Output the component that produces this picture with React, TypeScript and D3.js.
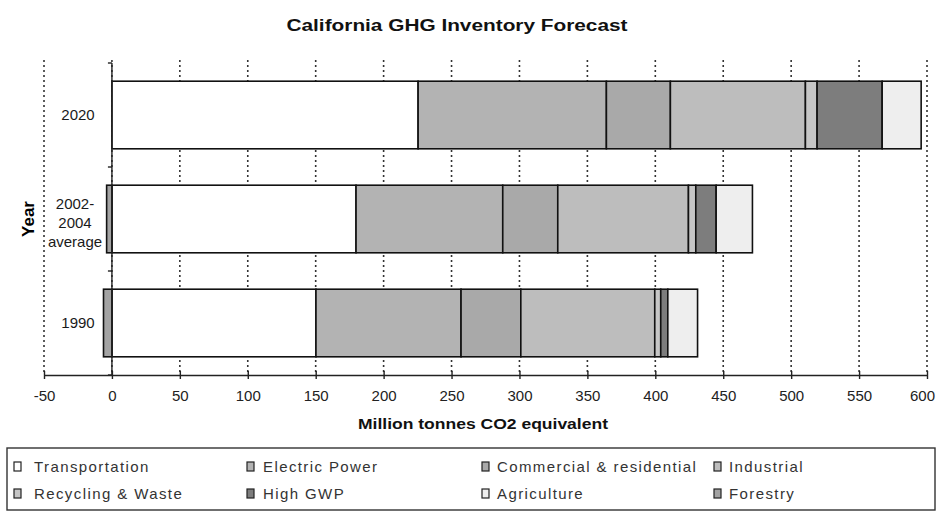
import * as d3 from "d3"
import { useEffect, useRef } from "react"

const categories = ["2020", "2002-2004 average", "1990"]
const sectors = [
  "Transportation",
  "Electric Power",
  "Commercial & residential",
  "Industrial",
  "Recycling & Waste",
  "High GWP",
  "Agriculture",
  "Forestry",
]
const transportation = [225.4, 179.7, 150.2]
const electricPower = [138.6, 108.0, 106.8]
const commercial = [47.1, 40.5, 44.0]
const industrial = [99.4, 96.2, 98.6]
const recycling = [8.6, 5.4, 4.4]
const highGwp = [47.9, 15.0, 5.2]
const agriculture = [28.7, 26.7, 21.9]
const forestry = [0, -3.9, -6.2]
const xTicks = [-50, 0, 50, 100, 150, 200, 250, 300, 350, 400, 450, 500, 550, 600]

const fills = ["#ffffff", "#b3b3b3", "#a9a9a9", "#bdbdbd", "#c6c6c6", "#7d7d7d", "#eeeeee", "#a3a3a3"]
const font = "'Liberation Sans', Arial, sans-serif"

export default function App() {
  const svgRef = useRef<SVGSVGElement>(null)

  useEffect(() => {
    if (!svgRef.current) return
    const svg = d3.select(svgRef.current)
    svg.selectAll("*").remove()

    const series = [transportation, electricPower, commercial, industrial, recycling, highGwp, agriculture, forestry]
    const rows = categories.map((c, i) => {
      const row: any = { year: c }
      sectors.forEach((s, k) => (row[s] = series[k][i]))
      return row
    })

    const stacked = d3.stack<any>().keys(sectors).offset(d3.stackOffsetDiverging)(rows)

    const x = d3.scaleLinear().domain([-50, 600]).range([44, 927])
    const y = d3.scaleBand<string>().domain(categories).range([63, 375]).paddingInner(0.35).paddingOuter(0.175)
    const color = d3.scaleOrdinal<string, string>().domain(sectors).range(fills)

    // title (the original is rendered wide)
    svg.append("text")
      .attr("x", 457).attr("y", 31)
      .attr("text-anchor", "middle")
      .attr("textLength", 341).attr("lengthAdjust", "spacingAndGlyphs")
      .style("font-family", font).style("font-weight", "bold").style("font-size", "16px")
      .attr("fill", "#111")
      .text("California GHG Inventory Forecast")

    // dotted gridlines
    svg.append("g")
      .selectAll("line")
      .data(xTicks)
      .join("line")
      .attr("x1", (d) => x(d)).attr("x2", (d) => x(d))
      .attr("y1", 60).attr("y2", 375)
      .attr("stroke", "#333")
      .attr("stroke-width", 1.6)
      .attr("stroke-dasharray", "2,3")

    // bars
    svg.append("g")
      .selectAll("g")
      .data(stacked)
      .join("g")
      .attr("fill", (d) => color(d.key))
      .selectAll("rect")
      .data((d) => d.filter((p) => p[1] !== p[0]))
      .join("rect")
      .attr("x", (d) => x(Math.min(d[0], d[1])))
      .attr("width", (d) => Math.abs(x(d[1]) - x(d[0])))
      .attr("y", (d) => y(d.data.year)!)
      .attr("height", y.bandwidth())
      .attr("stroke", "#111")
      .attr("stroke-width", 1.6)

    // x axis
    const xAxis = svg.append("g").attr("transform", "translate(0,375)")
      .call(d3.axisBottom(x).tickValues(xTicks).tickSize(4).tickSizeOuter(0).tickPadding(11).tickFormat((d) => String(d)))
    xAxis.select(".domain").attr("stroke", "#222").attr("stroke-width", 1.4)
    xAxis.selectAll(".tick line").attr("stroke", "#222").attr("y1", -4).attr("stroke-width", 1.4)
    xAxis.selectAll("text").style("font-family", font).style("font-size", "15px").attr("fill", "#222")
    // keep the last label inside the picture
    xAxis.selectAll<SVGTextElement, number>("text").filter((d) => d === 600).attr("dx", -5)

    // y axis
    const yAxis = svg.append("g").attr("transform", `translate(${x(0)},0)`)
    yAxis.append("line").attr("y1", 63).attr("y2", 375).attr("stroke", "#222").attr("stroke-width", 1.4)
    const step = y.step()
    yAxis.selectAll(".yt")
      .data([0, 1, 2, 3])
      .join("line")
      .attr("x1", -4).attr("x2", 0)
      .attr("y1", (d) => 63 + d * step).attr("y2", (d) => 63 + d * step)
      .attr("stroke", "#222").attr("stroke-width", 1.4)

    // category labels
    const labelLines: Record<string, string[]> = {
      "2020": ["2020"],
      "2002-2004 average": ["2002-", "2004", "average"],
      "1990": ["1990"],
    }
    categories.forEach((c) => {
      const lines = labelLines[c]
      const cy = y(c)! + y.bandwidth() / 2
      const t = svg.append("text")
        .attr("text-anchor", "middle")
        .style("font-family", font).style("font-size", "15px").attr("fill", "#1a1a1a")
      lines.forEach((l, i) => {
        t.append("tspan")
          .attr("x", lines.length > 1 ? 75 : 78)
          .attr("y", lines.length > 1 ? cy + 8.5 + (i - 1) * 19 : cy + 5)
          .text(l)
      })
    })

    // axis titles
    svg.append("text")
      .attr("transform", "translate(34,219) rotate(-90)")
      .attr("text-anchor", "middle")
      .style("font-family", font).style("font-weight", "bold").style("font-size", "17px")
      .text("Year")

    svg.append("text")
      .attr("x", 483).attr("y", 429)
      .attr("text-anchor", "middle")
      .attr("textLength", 250).attr("lengthAdjust", "spacingAndGlyphs")
      .style("font-family", font).style("font-weight", "bold").style("font-size", "14px")
      .attr("fill", "#111")
      .text("Million tonnes CO2 equivalent")

    // legend
    svg.append("rect")
      .attr("x", 7).attr("y", 448).attr("width", 928).attr("height", 62)
      .attr("fill", "none").attr("stroke", "#333").attr("stroke-width", 1.4)

    const boxX = [14, 247, 482, 714]
    const textX = [34, 263, 497, 729]
    const rowY = [472, 499]
    const legend = svg.append("g")
      .selectAll("g")
      .data(sectors)
      .join("g")
      .attr("transform", (d, i) => `translate(0,${rowY[Math.floor(i / 4)]})`)

    legend.append("rect")
      .attr("x", (d, i) => boxX[i % 4]).attr("y", -10).attr("width", 7).attr("height", 9)
      .attr("fill", (d) => color(d))
      .attr("stroke", "#222").attr("stroke-width", 1.2)

    legend.append("text")
      .attr("x", (d, i) => textX[i % 4]).attr("y", 0)
      .style("font-family", font).style("font-size", "15px").style("letter-spacing", "1.4px")
      .attr("fill", "#333")
      .text((d) => d)
  }, [])

  return (
    <svg
      ref={svgRef}
      width={938}
      height={512}
      style={{ position: "absolute", left: 0, top: 0, background: "#fff" }}
    />
  )
}
